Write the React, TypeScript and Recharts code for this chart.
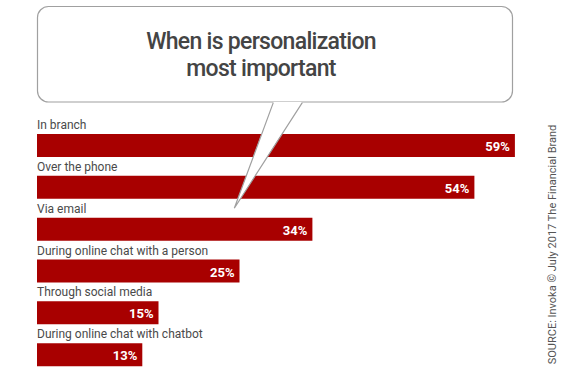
import { Bar, BarChart, LabelList, XAxis, YAxis } from 'recharts'

const channels = [
  'In branch',
  'Over the phone',
  'Via email',
  'During online chat with a person',
  'Through social media',
  'During online chat with chatbot',
]
const shares = [59, 54, 34, 25, 15, 13]
const titleLines = ['When is personalization', 'most important']
const source = 'SOURCE: Invoka © July 2017 The Financial Brand'

const data = channels.map((name, i) => ({ name, value: shares[i] }))

const RED = '#a80000'
const FONT = 'Roboto, sans-serif'

function CategoryLabel(props: any) {
  const { x, y, value } = props
  return (
    <text x={x} y={y - 5} fill="#4a4a4a" fontSize={12} fontFamily={FONT}>
      {value}
    </text>
  )
}

export default function App() {
  return (
    <div style={{ position: 'absolute', left: 0, top: 0, width: 565, height: 374, overflow: 'hidden', background: '#fff' }}>
      <BarChart
        width={565}
        height={376}
        data={data}
        layout="vertical"
        margin={{ top: 125, right: 42, left: 37, bottom: 0 }}
      >
        <XAxis type="number" domain={[0, 60]} hide />
        <YAxis type="category" dataKey="name" hide />
        <Bar dataKey="value" fill={RED} barSize={23} isAnimationActive={false}>
          <LabelList dataKey="name" content={<CategoryLabel />} />
          <LabelList
            dataKey="value"
            position="insideRight"
            offset={5}
            formatter={(v: any) => `${v}%`}
            fill="#fff"
            fontSize={13}
            fontWeight={700}
            fontFamily={FONT}
            dy={1}
          />
        </Bar>
      </BarChart>
      <svg
        width={565}
        height={374}
        style={{ position: 'absolute', left: 0, top: 0, pointerEvents: 'none' }}
      >
        <rect x={37.5} y={6.5} width={475} height={95.5} rx={11} ry={11} fill="#fff" stroke="#a0a0a0" strokeWidth={1.2} />
        <polygon points="273.3,102 234.3,208.3 302.3,102" fill="#fff" stroke="none" />
        <polyline points="273.3,102.6 234.3,208.3 302.3,102.6" fill="none" stroke="#a0a0a0" strokeWidth={1.2} />
        {titleLines.map((line, i) => (
          <text
            key={line}
            x={261}
            y={48.5 + i * 27}
            textAnchor="middle"
            fill="#444"
            fontSize={23}
            fontWeight={500}
            letterSpacing={-0.7}
            fontFamily={FONT}
          >
            {line}
          </text>
        ))}
        <text
          x={552}
          y={244.5}
          transform="rotate(-90 552 244.5)"
          textAnchor="middle"
          dominantBaseline="central"
          fill="#555"
          fontSize={11}
          fontFamily={FONT}
        >
          {source}
        </text>
      </svg>
    </div>
  )
}
